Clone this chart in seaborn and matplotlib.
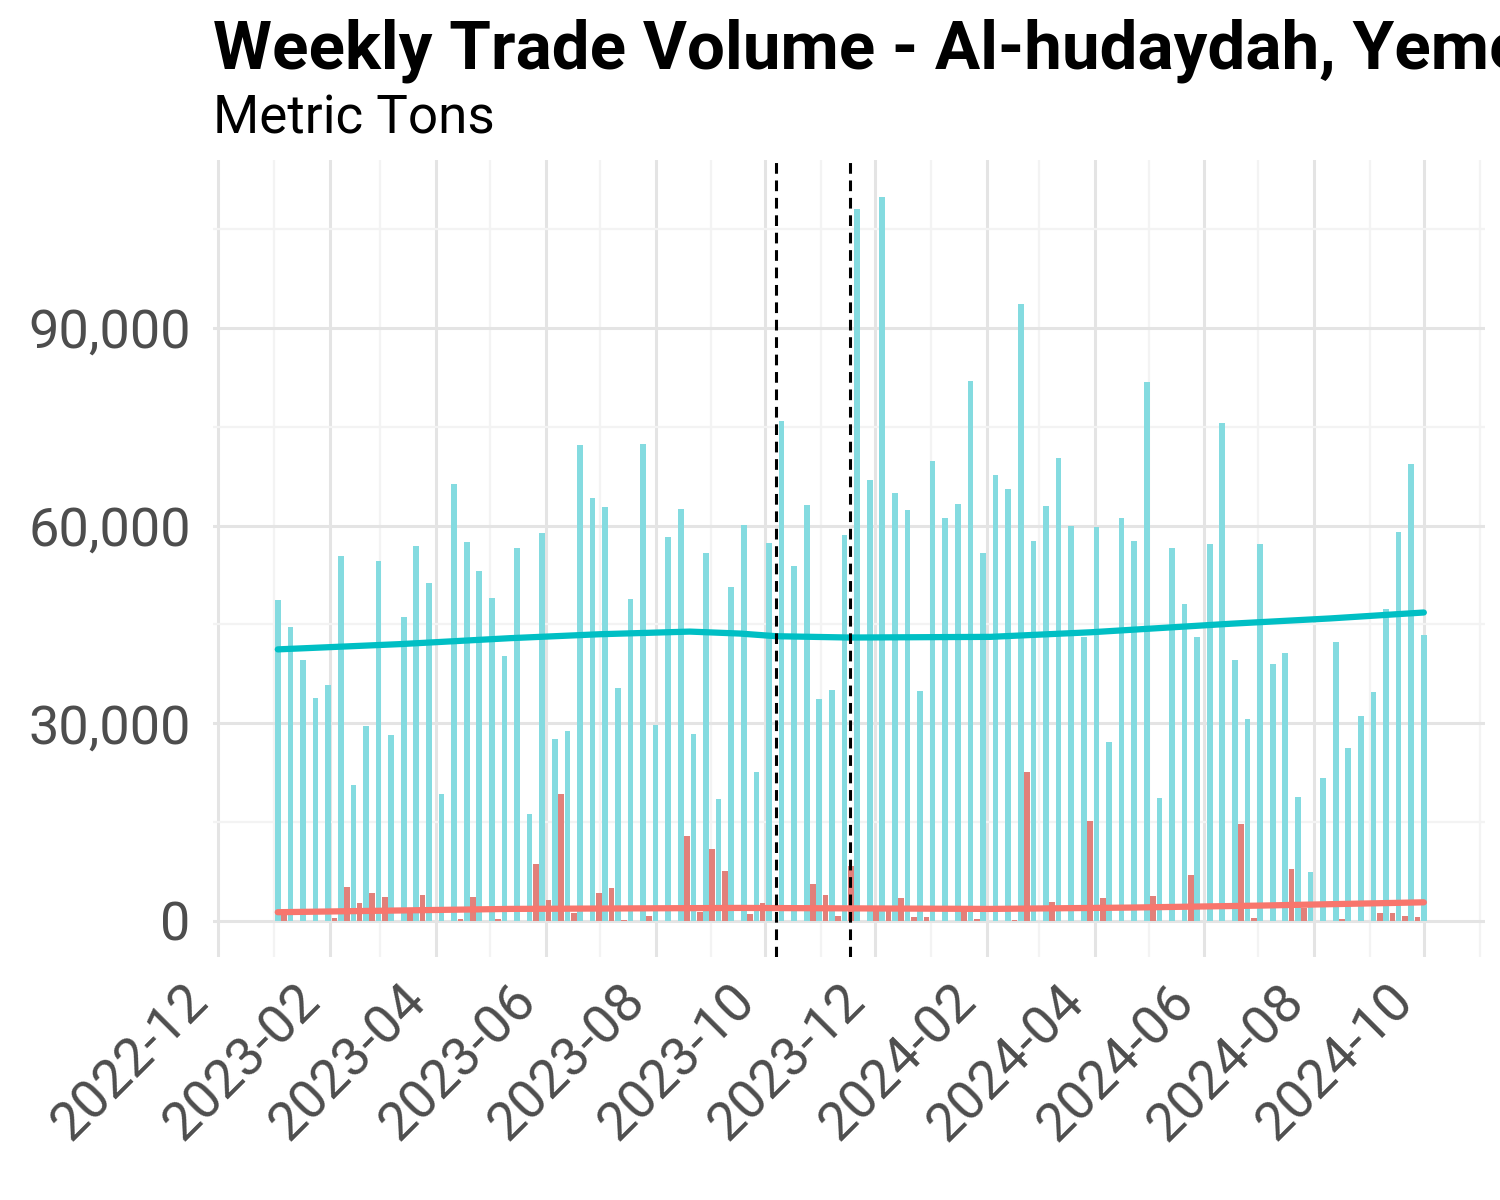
import pandas as pd
import seaborn as sns
import matplotlib.pyplot as plt
import matplotlib.dates as mdates
from matplotlib.ticker import FuncFormatter, MultipleLocator
from matplotlib.transforms import ScaledTranslation

# weekly volumes, thousands of metric tons
first_week = "2023-01-03"
import_k = [48.7, 44.6, 39.6, 33.8, 35.8, 55.4, 20.6, 29.6, 54.6, 28.2,
            46.1, 56.9, 51.3, 19.3, 66.3, 57.5, 53.1, 49.0, 40.2, 56.6,
            16.2, 58.9, 27.6, 28.8, 72.2, 64.2, 62.8, 35.4, 48.9, 72.4,
            29.7, 58.3, 62.5, 28.4, 55.8, 18.5, 50.7, 60.1, 22.6, 57.4,
            75.9, 53.9, 63.1, 33.7, 35.1, 58.5, 108.0, 66.9, 109.9, 64.9,
            62.4, 34.9, 69.8, 61.1, 63.2, 82.0, 55.8, 67.6, 65.5, 93.6,
            57.6, 62.9, 70.3, 59.9, 43.1, 59.8, 27.2, 61.2, 57.6, 81.8,
            18.6, 56.6, 48.1, 43.1, 57.2, 75.6, 39.6, 30.7, 57.2, 39.0,
            40.7, 18.8, 7.4, 21.6, 42.3, 26.3, 31.1, 34.7, 47.4, 59.0,
            69.4, 43.4]
export_k = [1.0, 0, 0, 0, 0.4, 5.2, 2.7, 4.2, 3.6, 0,
            1.3, 3.9, 0, 0, 0.2, 3.6, 0, 0.3, 0, 0,
            8.6, 3.2, 19.3, 1.2, 0, 4.2, 4.9, 0.1, 0, 0.8,
            0, 0, 12.9, 1.4, 10.9, 7.6, 0, 1.0, 2.7, 0,
            0, 0, 5.6, 3.9, 0.7, 8.3, 0, 1.5, 1.5, 3.5,
            0.5, 0.6, 0, 0, 1.5, 0.3, 0, 0, 0.1, 22.6,
            0, 2.8, 0, 0, 15.1, 3.5, 0, 0, 0, 3.8,
            0, 0, 6.9, 0, 0, 0, 14.7, 0.4, 0, 0,
            7.9, 2.0, 0, 0, 0.2, 0, 0, 1.2, 1.2, 0.7,
            0.5]

# smoothed trends
trend_dates = ["2023-01-03", "2023-03-12", "2023-05-12", "2023-07-01", "2023-08-20",
               "2023-09-17", "2023-10-07", "2023-11-17", "2024-02-03", "2024-03-30",
               "2024-06-16", "2024-08-10", "2024-10-01"]
import_trend_k = [41.2, 42.0, 42.9, 43.5, 43.9, 43.6, 43.2, 43.0, 43.1, 43.8, 45.1, 45.9, 46.8]
export_trend_dates = ["2023-01-03", "2023-05-12", "2023-09-17", "2024-02-03",
                      "2024-04-20", "2024-07-01", "2024-10-01"]
export_trend_k = [1.3, 1.8, 1.95, 1.8, 2.0, 2.3, 2.8]

events = ["2023-10-07", "2023-11-17"]
tick_months = ["2022-12", "2023-02", "2023-04", "2023-06", "2023-08", "2023-10",
               "2023-12", "2024-02", "2024-04", "2024-06", "2024-08", "2024-10"]

CYAN = "#00BFC4"
RED = "#F8766D"

weeks = pd.date_range(first_week, periods=len(import_k), freq="7D")
imp = pd.DataFrame({"x": mdates.date2num(weeks), "tons": [v * 1000 for v in import_k]})
exp = pd.DataFrame({"x": mdates.date2num(weeks[:len(export_k)]) + 3.5,
                    "tons": [v * 1000 for v in export_k]})
imp_tr = pd.DataFrame({"x": mdates.date2num(pd.to_datetime(trend_dates)),
                       "tons": [v * 1000 for v in import_trend_k]})
exp_tr = pd.DataFrame({"x": mdates.date2num(pd.to_datetime(export_trend_dates)),
                       "tons": [v * 1000 for v in export_trend_k]})

sns.set_theme(style="white")
plt.rcParams["font.family"] = ["Roboto", "DejaVu Sans"]

fig, ax = plt.subplots(figsize=(15, 12), dpi=100)
fig.subplots_adjust(left=0.142, right=0.99, top=0.8667, bottom=0.2025)

sns.barplot(data=imp, x="x", y="tons", native_scale=True, width=0.45, color="#84DBE0",
            saturation=1, errorbar=None, linewidth=0, orient="x", ax=ax)
sns.barplot(data=exp, x="x", y="tons", native_scale=True, width=0.45, color="#E2807A",
            saturation=1, errorbar=None, linewidth=0, orient="x", ax=ax)
sns.lineplot(data=imp_tr, x="x", y="tons", color=CYAN, linewidth=4.5, ax=ax)
sns.lineplot(data=exp_tr, x="x", y="tons", color=RED, linewidth=4.5, ax=ax)

for d in events:
    ax.axvline(mdates.date2num(pd.Timestamp(d)), color="black",
               linestyle=(0, (3.5, 2.2)), linewidth=2.2)

ax.set_xlim(mdates.date2num(pd.Timestamp("2022-11-28")), mdates.date2num(pd.Timestamp("2024-11-04")))
ax.set_ylim(-5500, 115500)

tick_pos = mdates.date2num(pd.to_datetime(tick_months))
ax.set_xticks(tick_pos)
ax.set_xticklabels(tick_months, rotation=45, ha="right", va="top", rotation_mode="anchor")
ax.xaxis.set_minor_locator(mdates.MonthLocator(bymonth=[1, 3, 5, 7, 9, 11]))
ax.yaxis.set_major_locator(MultipleLocator(30000))
ax.yaxis.set_minor_locator(MultipleLocator(15000))
ax.yaxis.set_major_formatter(FuncFormatter(lambda v, p: f"{v:,.0f}"))

ax.grid(which="major", color="#e4e4e4", linewidth=2.2)
ax.grid(which="minor", color="#f3f3f3", linewidth=1.6)
ax.set_axisbelow(True)
for s in ax.spines.values():
    s.set_visible(False)

ax.set_xlabel("")
ax.set_ylabel("")
ax.tick_params(which="both", length=0)
ax.tick_params(axis="y", labelsize=39, labelcolor="#4d4d4d", pad=16)
ax.tick_params(axis="x", labelsize=39, labelcolor="#4d4d4d", pad=6)

# nudge the rotated date labels so their ends sit left of the gridlines, as in ggplot
shift = ScaledTranslation(-0.36, -0.10, fig.dpi_scale_trans)
for lab in ax.get_xticklabels():
    lab.set_transform(lab.get_transform() + shift)

fig.text(0.142, 0.943, "Weekly Trade Volume - Al-hudaydah, Yemen", fontsize=48.5,
         fontweight="bold", color="black", ha="left", va="baseline")
fig.text(0.142, 0.889, "Metric Tons", fontsize=38.2, color="black", ha="left", va="baseline")

fig.savefig("out.png", dpi=100)
